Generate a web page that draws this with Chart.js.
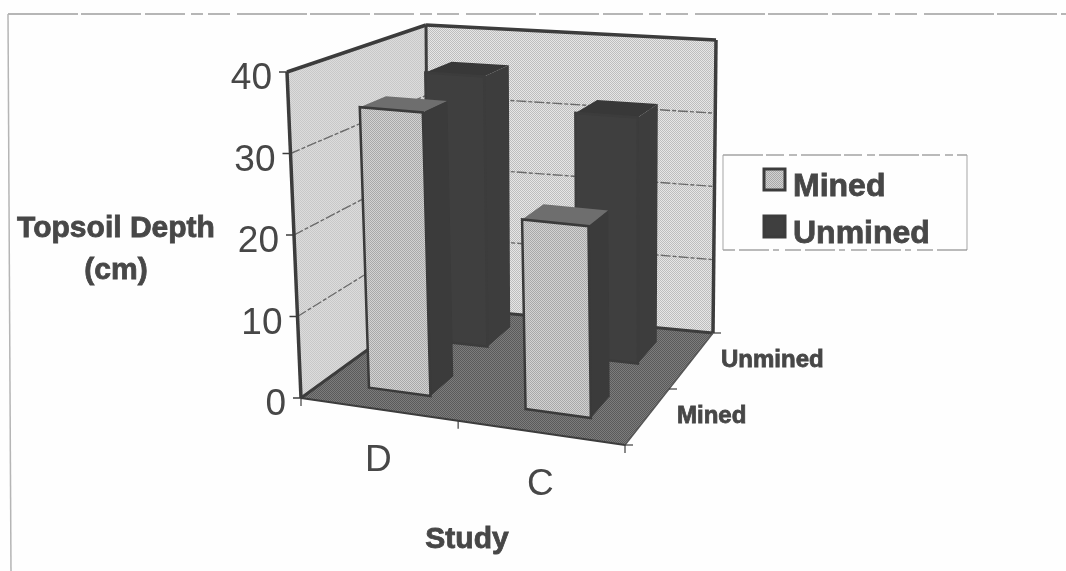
<!DOCTYPE html>
<html>
<head>
<meta charset="utf-8">
<style>
    html, body { margin: 0; padding: 0; background: #fefefe; }
    canvas { display: block; filter: blur(0.55px); }
</style>
<script src="https://cdn.jsdelivr.net/npm/chart.js@4/dist/chart.umd.min.js"></script>
</head>
<body>
<canvas id="chart" width="1066" height="571"></canvas>
<script>
const studies = ['D', 'C']
const depthLabels = ['Mined', 'Unmined']
const minedDepth = [35, 23]
const unminedDepth = [36, 32]

const yTitle = ['Topsoil Depth', '(cm)']
const xTitle = 'Study'

// corners of the 3d box on the page: floor and top, front-left going round
const floor = [[301, 398], [625, 445], [713, 333], [428, 306]]
const roof = [[287, 72], [621, 99], [716, 40], [426, 25]]

const mix = (a, b, t) => [a[0] + (b[0] - a[0]) * t, a[1] + (b[1] - a[1]) * t]
const onQuad = (q, u, w) => mix(mix(q[0], q[1], u), mix(q[3], q[2], u), w)

// u, w and v are 0..1 along study, depth and height
const project = (u, w, v) => {
    const warped = u - 0.06 * u * (1 - u)
    return mix(onQuad(floor, warped, w), onQuad(roof, warped, w), v)
}

const stipple = (base, speck) => {
    const tile = document.createElement('canvas')
    tile.width = tile.height = 2
    const t = tile.getContext('2d')
    t.fillStyle = base
    t.fillRect(0, 0, 2, 2)
    t.fillStyle = speck
    t.fillRect(0, 0, 1, 1)
    t.fillRect(1, 1, 1, 1)
    return t.createPattern(tile, 'repeat')
}

const poly = (ctx, points, fill) => {
    ctx.beginPath()
    points.forEach((p, i) => i ? ctx.lineTo(p[0], p[1]) : ctx.moveTo(p[0], p[1]))
    ctx.closePath()
    ctx.fillStyle = fill
    ctx.fill()
}

const line = (ctx, a, b, color, width, dash = []) => {
    ctx.save()
    ctx.strokeStyle = color
    ctx.lineWidth = width
    ctx.setLineDash(dash)
    ctx.beginPath()
    ctx.moveTo(a[0], a[1])
    ctx.lineTo(b[0], b[1])
    ctx.stroke()
    ctx.restore()
}

// bold scan text comes out fatter than the font
const fatText = (ctx, text, x, y) => {
    ctx.fillText(text, x, y)
    ctx.strokeStyle = ctx.fillStyle
    ctx.lineWidth = 0.8
    ctx.strokeText(text, x, y)
}

const uOf = (chart, px) => (px - chart.chartArea.left) / chart.chartArea.width
const vOf = (chart, px) => (chart.chartArea.bottom - px) / chart.chartArea.height
const DEPTH_SHIFT = 0.03
const DEPTH_SIZE = 0.2

class Bar3D extends Chart.BarElement {
    static id = 'bar3d'

    draw(ctx) {
        const chart = this.owner.chart
        const dataset = this.owner.getDataset()
        const { x, y, base, width } = this.getProps(['x', 'y', 'base', 'width'])
        const zScale = chart.scales.z
        const zMid = zScale.getDecimalForPixel(zScale.getPixelForValue(depthLabels.indexOf(dataset.depthLabel)))
        const w0 = zMid + DEPTH_SHIFT - DEPTH_SIZE / 2
        const w1 = w0 + DEPTH_SIZE
        const u0 = uOf(chart, x - width / 2)
        const u1 = uOf(chart, x + width / 2)
        const v0 = vOf(chart, base)
        const v1 = vOf(chart, y)

        poly(ctx, [project(u0, w0, v1), project(u1, w0, v1), project(u1, w1, v1), project(u0, w1, v1)], dataset.topColor)
        poly(ctx, [project(u1, w0, v0), project(u1, w1, v0), project(u1, w1, v1), project(u1, w0, v1)], dataset.sideColor)
        const front = [project(u0, w0, v0), project(u1, w0, v0), project(u1, w0, v1), project(u0, w0, v1)]
        poly(ctx, front, this.options.backgroundColor)
        ctx.save()
        ctx.strokeStyle = dataset.edgeColor
        ctx.lineWidth = 2.5
        ctx.beginPath()
        front.forEach((p, i) => i ? ctx.lineTo(p[0], p[1]) : ctx.moveTo(p[0], p[1]))
        ctx.closePath()
        ctx.stroke()
        ctx.restore()
    }
}

class Bar3DController extends Chart.BarController {
    static id = 'bar3d'
    static defaults = { dataElementType: 'bar3d' }

    draw() {
        this._cachedMeta.data.forEach(el => { el.owner = this })
        super.draw()
    }
}

Chart.register(Bar3D, Bar3DController)

const INK = '#3c3c3c'
const TEXT = '#474747'
const SANS = '"Liberation Sans", Arial, sans-serif'

const walls = {
    id: 'walls',
    beforeDatasetsDraw(chart) {
        const { ctx } = chart
        ctx.save()
        // scan frame
        line(ctx, [8, 14], [1066, 14], '#6f6f6f', 1.2, [70, 3, 60, 4, 40, 6, 12, 5, 22, 7])
        line(ctx, [8, 14], [11, 571], '#b5b5b5', 1.5)

        poly(ctx, [project(0, 0, 0), project(0, 1, 0), project(0, 1, 1), project(0, 0, 1)], stipple('#dcdcdc', '#c8c8c8'))
        poly(ctx, [project(0, 1, 0), project(1, 1, 0), project(1, 1, 1), project(0, 1, 1)], stipple('#e6e6e6', '#bdbdbd'))
        poly(ctx, [project(0, 0, 0), project(1, 0, 0), project(1, 1, 0), project(0, 1, 0)], stipple('#7c7c7c', '#5a5a5a'))

        const y = chart.scales.y
        y.ticks.forEach(tick => {
            const v = vOf(chart, y.getPixelForValue(tick.value))
            if (tick.value > 0 && tick.value < y.max) {
                line(ctx, project(0, 0, v), project(0, 1, v), '#6a6a6a', 1.4, [10, 2, 4, 2])
                line(ctx, project(0, 1, v), project(1, 1, v), '#6a6a6a', 1.4, [10, 2, 4, 2])
            }
            const p = project(0, 0, v)
            line(ctx, [p[0] - 8, p[1]], p, INK, 1.5)
        })

        line(ctx, project(0, 0, 0), project(0, 0, 1), INK, 3.5)
        line(ctx, project(0, 0, 1), project(0, 1, 1), INK, 3.5)
        line(ctx, project(0, 1, 0), project(0, 1, 1), INK, 3)
        line(ctx, project(0, 1, 1), project(1, 1, 1), INK, 3.5)
        line(ctx, project(1, 1, 1), project(1, 1, 0), INK, 3.5)
        line(ctx, project(0, 0, 0), project(0, 1, 0), INK, 3)
        line(ctx, project(0, 1, 0), project(1, 1, 0), INK, 3)
        line(ctx, project(0, 0, 0), project(1, 0, 0), INK, 2)
        line(ctx, project(1, 0, 0), project(1, 1, 0), '#555555', 1.5)

        // study ticks under the front edge, depth ticks along the right edge
        const edges = [0, 0.5, 1]
        edges.forEach(f => {
            const p = project(f, 0, 0)
            line(ctx, p, [p[0], p[1] + 8], INK, 1.2)
            const q = project(1, f, 0)
            line(ctx, q, [q[0] + 8, q[1]], INK, 1.2)
        })
        ctx.restore()
    },
    afterDraw(chart) {
        const { ctx } = chart
        ctx.save()
        ctx.fillStyle = TEXT

        const y = chart.scales.y
        ctx.font = `37px ${SANS}`
        ctx.textAlign = 'right'
        ctx.textBaseline = 'middle'
        y.ticks.forEach(tick => {
            const p = project(0, 0, vOf(chart, y.getPixelForValue(tick.value)))
            ctx.fillText(tick.label, p[0] - 15, p[1] + 7)
        })

        const x = chart.scales.x
        ctx.font = `37px ${SANS}`
        ctx.textAlign = 'center'
        studies.forEach((s, i) => {
            const p = project(uOf(chart, x.getPixelForValue(i)), 0, 0)
            ctx.fillText(s, p[0], p[1] + 52)
        })

        const z = chart.scales.z
        ctx.font = `bold 24px ${SANS}`
        ctx.textAlign = 'left'
        depthLabels.forEach((s, i) => {
            const p = project(1, z.getDecimalForPixel(z.getPixelForValue(i)), 0)
            fatText(ctx, s, p[0] + 30, p[1] - 1)
        })

        ctx.font = `bold 30px ${SANS}`
        ctx.textAlign = 'center'
        fatText(ctx, yTitle[0], 116, 229)
        fatText(ctx, yTitle[1], 116, 271)
        fatText(ctx, xTitle, 467, 540)

        // legend box
        line(ctx, [723, 155], [967, 155], '#777777', 1, [40, 3, 18, 5, 8, 4])
        line(ctx, [967, 155], [967, 250], '#a5a5a5', 1)
        line(ctx, [967, 250], [723, 250], '#777777', 1, [30, 4, 16, 6, 6, 4])
        line(ctx, [723, 250], [723, 155], '#a5a5a5', 1)
        ctx.font = `bold 32px ${SANS}`
        ctx.textAlign = 'left'
        chart.data.datasets.forEach((d, i) => {
            const top = 169 + i * 47
            ctx.fillStyle = d.backgroundColor
            ctx.fillRect(764, top, 21, 21)
            ctx.strokeStyle = INK
            ctx.lineWidth = 3
            ctx.strokeRect(764, top, 21, 21)
            ctx.fillStyle = TEXT
            fatText(ctx, d.label, 793, top + 18)
        })
        ctx.restore()
    }
}

const ctx = document.getElementById('chart').getContext('2d')
new Chart(ctx, {
    type: 'bar3d',
    data: {
        labels: studies,
        datasets: [
            {
                label: 'Mined',
                depthLabel: 'Mined',
                data: minedDepth,
                clip: false,
                backgroundColor: stipple('#d2d2d2', '#a8a8a8'),
                sideColor: '#3b3b3b',
                topColor: '#6e6e6e',
                edgeColor: '#3a3a3a'
            },
            {
                label: 'Unmined',
                depthLabel: 'Unmined',
                data: unminedDepth,
                clip: false,
                backgroundColor: '#3f3f3f',
                sideColor: '#3d3d3d',
                topColor: '#383838',
                edgeColor: '#3c3c3c'
            }
        ]
    },
    options: {
        responsive: false,
        animation: false,
        maintainAspectRatio: false,
        grouped: false,
        barPercentage: 0.4,
        categoryPercentage: 1,
        layout: { padding: { left: 301, right: 441, top: 72, bottom: 173 } },
        plugins: { legend: { display: false }, tooltip: { enabled: false } },
        scales: {
            x: { type: 'category', display: false, offset: true },
            z: { type: 'category', axis: 'x', display: false, offset: true, labels: depthLabels },
            y: { type: 'linear', display: false, min: 0, max: 40, ticks: { stepSize: 10 } }
        }
    },
    plugins: [walls]
})
</script>
</body>
</html>
